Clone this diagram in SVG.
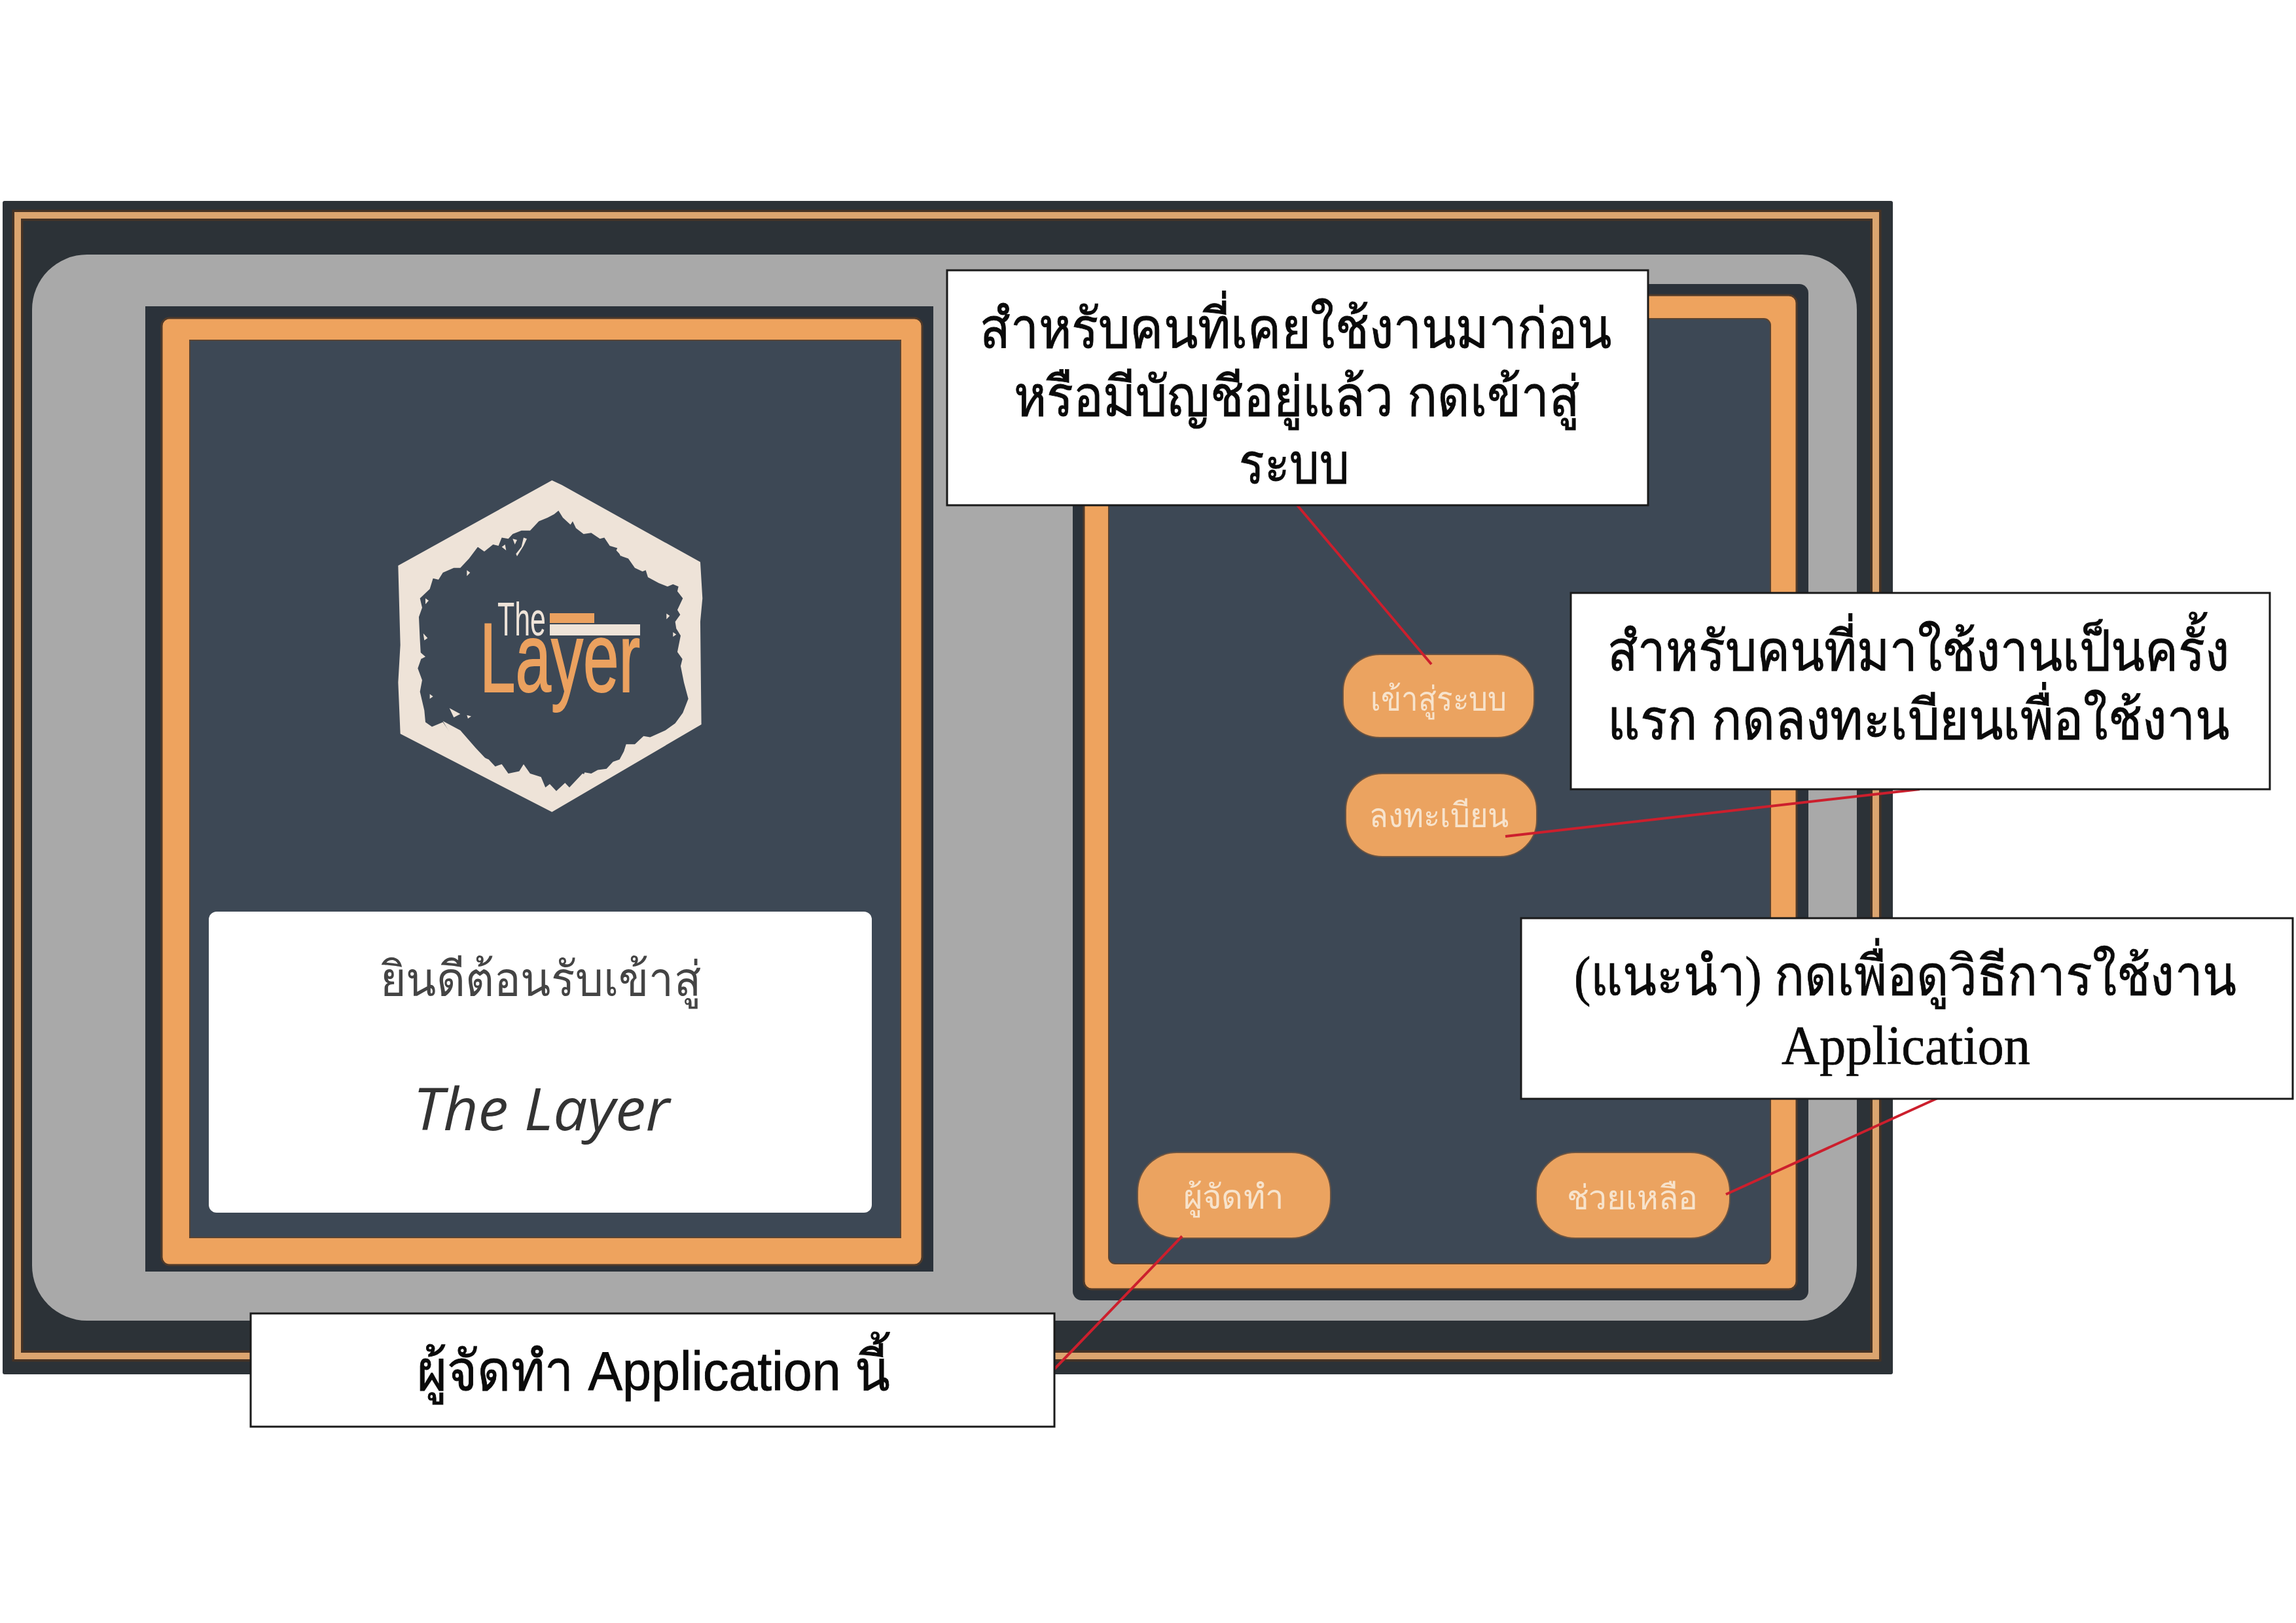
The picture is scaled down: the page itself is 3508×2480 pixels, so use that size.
<svg xmlns="http://www.w3.org/2000/svg" width="3508" height="2480" viewBox="0 0 3508 2480">
<style>
.thai{font-family:"Liberation Sans","Noto Sans","DejaVu Sans",sans-serif;fill:#0a0a0a;stroke:#0a0a0a;stroke-width:.9;font-size:84px}
.serif{font-family:"Liberation Serif","Noto Serif","DejaVu Serif",serif;fill:#0a0a0a;stroke:#0a0a0a;stroke-width:.7;font-size:84px}
.callout{fill:#fff;stroke:#1a1a1a;stroke-width:3}
.btn{fill:#eba360;stroke:#6b5442;stroke-width:2}
.btnt{font-family:"Noto Sans","DejaVu Sans",sans-serif;fill:#f7e3cc;font-size:52px}
.org{fill:#eea35e;stroke:#4f3a2a;stroke-width:3}
.ink{fill:#3d4855;stroke:#5a4432;stroke-width:2}
.dark{fill:#2b323a}
.wire{stroke:#cc1f2d;stroke-width:4;fill:none}
.cream{fill:#eee3d8}
</style>
<rect width="3508" height="2480" fill="#fff"/>
<g id="frame">
<rect x="4" y="307" width="2888" height="1793" rx="3" fill="#2c3237"/>
<rect x="27" y="329" width="2839" height="1743" fill="none" stroke="#463325" stroke-width="17"/>
<rect x="27" y="329" width="2839" height="1743" fill="none" stroke="#dca56f" stroke-width="10"/>
<rect x="49" y="389" width="2788" height="1629" rx="84" fill="#a9a9a9"/>
</g>
<g id="left-card">
<rect x="222" y="468" width="1204" height="1475" class="dark"/>
<rect x="247" y="486" width="1162" height="1447" rx="12" class="org"/>
<rect x="290" y="520" width="1086" height="1371" class="ink"/>
<g id="logo">
<path transform="translate(570 700) scale(.3333 .357)" class="cream" fill-rule="evenodd" d="M820 95L865 115L1500 445L1510 600L1500 700L1505 1140L820 1515L125 1180L115 960L125 800L115 460ZM830 240L850 225L870 255L905 285L915 270L930 300L965 325L1000 320L1040 345L1060 340L1085 375L1120 385L1115 395L1140 420L1170 430L1200 470L1235 485L1250 480L1260 510L1310 535L1350 550L1375 540L1400 550L1395 570L1420 600L1395 650L1408 670L1385 700L1390 730L1410 760L1395 830L1418 860L1410 890L1425 960L1445 1030L1420 1090L1385 1135L1340 1165L1270 1195L1240 1190L1200 1225L1160 1225L1150 1255L1130 1290L1100 1300L1070 1330L1030 1335L1000 1350L970 1345L950 1390L900 1410L880 1390L840 1425L810 1395L790 1410L770 1365L720 1350L690 1310L670 1340L620 1350L590 1310L560 1320L530 1290L480 1270L440 1220L420 1235L400 1190L350 1170L320 1130L270 1150L240 1130L235 1080L215 1000L225 950L205 900L220 860L215 780L210 680L225 640L215 600L260 560L275 515L300 520L320 490L370 470L400 470L440 430L480 380L510 400L550 370L575 375L590 340L620 345L640 325L680 310L720 310L760 270L800 255Z"/>
<path transform="translate(570 700) scale(.3333 .357)" class="cream" d="M590 380L605 370L610 395ZM640 345L660 350L650 370ZM690 340L705 345L690 375L660 420L655 410L680 380ZM430 480L445 490L430 505ZM240 600L255 610L240 625ZM260 1010L275 1020L260 1030ZM350 1070L400 1095L370 1110ZM430 1100L450 1105L435 1115ZM1345 665L1360 675L1345 690ZM1375 745L1390 755L1375 765ZM1160 1230L1175 1245L1150 1260ZM230 750L250 770L235 780ZM215 830L240 850L220 860ZM320 1125L400 1165L470 1240L530 1300L470 1290L420 1240L360 1190ZM900 1410L960 1350L985 1360L930 1410ZM1120 390L1150 400L1135 420Z"/>
<rect x="840" y="937" width="68" height="15" fill="#eba15f"/>
<rect x="840" y="954" width="138" height="17" class="cream"/>
<text x="760" y="971" font-family="Liberation Sans Narrow,Liberation Sans,sans-serif" font-size="72" fill="#eee3d8" textLength="74" lengthAdjust="spacingAndGlyphs">The</text>
<text x="733" y="1057" font-family="Liberation Sans Narrow,Liberation Sans,sans-serif" font-size="150" fill="#eba15f" stroke="#eba15f" stroke-width="2" textLength="245" lengthAdjust="spacingAndGlyphs">Layer</text>
</g>
<rect x="319" y="1393" width="1013" height="460" rx="12" fill="#fff"/>
<text x="581" y="1522" font-family="Noto Sans,DejaVu Sans,sans-serif" font-size="74" fill="#444" textLength="490" lengthAdjust="spacingAndGlyphs">ยินดีต้อนรับเข้าสู่</text>
<text x="631" y="1727" font-family="Open Sans,Noto Sans,sans-serif" font-style="italic" font-size="90" fill="#333" textLength="392" lengthAdjust="spacingAndGlyphs">The Layer</text>
</g>
<g id="right-card">
<rect x="1639" y="434" width="1124" height="1553" rx="14" class="dark"/>
<rect x="1656" y="451" width="1089" height="1519" rx="12" class="org"/>
<rect x="1694" y="487" width="1011" height="1444" rx="10" class="ink"/>
</g>
<g id="btn-login"><rect x="2052" y="1000" width="292" height="127" rx="56" class="btn"/><text x="2094" y="1086" class="btnt" textLength="208" lengthAdjust="spacingAndGlyphs">เข้าสู่ระบบ</text></g>
<g id="btn-register"><rect x="2056" y="1182" width="292" height="127" rx="56" class="btn"/><text x="2092" y="1264" class="btnt" textLength="214" lengthAdjust="spacingAndGlyphs">ลงทะเบียน</text></g>
<g id="btn-maker"><rect x="1738" y="1761" width="295" height="131" rx="60" class="btn"/><text x="1808" y="1847" class="btnt" textLength="153" lengthAdjust="spacingAndGlyphs">ผู้จัดทำ</text></g>
<g id="btn-help"><rect x="2347" y="1761" width="296" height="131" rx="60" class="btn"/><text x="2394" y="1848" class="btnt" textLength="200" lengthAdjust="spacingAndGlyphs">ช่วยเหลือ</text></g>
<g id="connectors">
<line class="wire" x1="1982" y1="772" x2="2187" y2="1015"/>
<line class="wire" x1="2300" y1="1278" x2="2933" y2="1206"/>
<line class="wire" x1="2637" y1="1825" x2="2967" y2="1675"/>
<line class="wire" x1="1806" y1="1889" x2="1611" y2="2092"/>
</g>
<g id="callout-login">
<rect x="1447" y="413" width="1071" height="359" class="callout"/>
<text x="1497" y="531" class="thai" textLength="965" lengthAdjust="spacingAndGlyphs">สำหรับคนที่เคยใช้งานมาก่อน</text>
<text x="1549" y="635" class="thai" textLength="864" lengthAdjust="spacingAndGlyphs">หรือมีบัญชีอยู่แล้ว กดเข้าสู่</text>
<text x="1893" y="738" class="thai" textLength="168" lengthAdjust="spacingAndGlyphs">ระบบ</text>
</g>
<g id="callout-register">
<rect x="2400" y="906" width="1068" height="300" class="callout"/>
<text x="2456" y="1024" class="thai" textLength="950" lengthAdjust="spacingAndGlyphs">สำหรับคนที่มาใช้งานเป็นครั้ง</text>
<text x="2456" y="1129" class="thai" textLength="950" lengthAdjust="spacingAndGlyphs">แรก กดลงทะเบียนเพื่อใช้งาน</text>
</g>
<g id="callout-help">
<rect x="2324" y="1403" width="1179" height="276" class="callout"/>
<text x="2405" y="1520" class="serif" textLength="1012" lengthAdjust="spacingAndGlyphs">(แนะนำ) กดเพื่อดูวิธีการใช้งาน</text>
<text x="2722" y="1626" class="serif" textLength="380" lengthAdjust="spacingAndGlyphs">Application</text>
</g>
<g id="callout-maker">
<rect x="383" y="2007" width="1228" height="173" class="callout"/>
<text x="637" y="2124" class="thai" textLength="723" lengthAdjust="spacingAndGlyphs">ผู้จัดทำ Application นี้</text>
</g>
</svg>
